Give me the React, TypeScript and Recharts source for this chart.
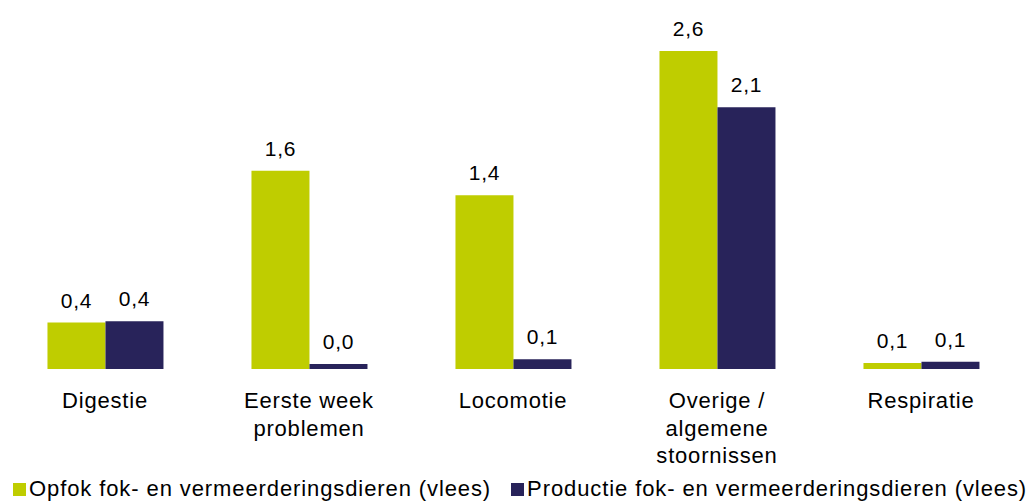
import React from 'react';
import { BarChart, Bar, XAxis, YAxis, Legend, LabelList } from 'recharts';

const categories = ['Digestie', 'Eerste week problemen', 'Locomotie', 'Overige / algemene stoornissen', 'Respiratie'];
const tickLines = [['Digestie'], ['Eerste week', 'problemen'], ['Locomotie'], ['Overige /', 'algemene', 'stoornissen'], ['Respiratie']];
const opfokValues = [0.38, 1.62, 1.42, 2.6, 0.05];
const productieValues = [0.39, 0.04, 0.08, 2.14, 0.06];
const seriesNames = ['Opfok fok- en vermeerderingsdieren (vlees)', 'Productie fok- en vermeerderingsdieren (vlees)'];
const seriesColors = ['#BFCD00', '#28235A'];

const data = categories.map((c, i) => ({ name: c, lines: tickLines[i], opfok: opfokValues[i], productie: productieValues[i] }));

const FONT = '"Liberation Sans", Arial, sans-serif';

const fmt = (v: number) => v.toFixed(1).replace('.', ',');

const Tick = (props: any) => {
  const { x, y, index } = props;
  const lines = tickLines[index] || [];
  return (
    <g>
      {lines.map((l: string, i: number) => (
        <text key={i} x={x} y={y + 31 + i * 27.5} textAnchor="middle" fontFamily={FONT} fontSize={22} letterSpacing={0.8} fill="#000">
          {l}
        </text>
      ))}
    </g>
  );
};

const ValueLabel = (props: any) => {
  const { x, y, width, value } = props;
  return (
    <text x={x + width / 2} y={y - 15} textAnchor="middle" fontFamily={FONT} fontSize={21} letterSpacing={0.8} fill="#000">
      {fmt(value)}
    </text>
  );
};

const LegendContent = () => (
  <div style={{ height: 26, display: 'flex', alignItems: 'flex-start', paddingLeft: 13, fontFamily: FONT, fontSize: 22, letterSpacing: 0.9, color: '#000', whiteSpace: 'nowrap' }}>
    {seriesNames.map((n, i) => (
      <div key={i} style={{ display: 'flex', alignItems: 'center', marginRight: 20, height: 26 }}>
        <span style={{ display: 'inline-block', width: 13, height: 13, background: seriesColors[i], marginRight: 3, marginTop: 2 }} />
        <span style={{ lineHeight: '26px', marginTop: 2 }}>{n}</span>
      </div>
    ))}
  </div>
);

export default function App() {
  return (
    <div style={{ position: 'absolute', left: 0, top: 0, width: 1029, height: 501, background: '#fff' }}>
      <BarChart width={1029} height={501} data={data} margin={{ top: 2, right: 6, left: 3, bottom: 0 }} barCategoryGap="21.8%" barGap={0}>
        <XAxis dataKey="name" axisLine={false} tickLine={false} tick={<Tick />} height={106} interval={0} />
        <YAxis hide domain={[0, 3]} />
        <Legend verticalAlign="bottom" align="left" content={<LegendContent />} wrapperStyle={{ left: 0, width: 1029 }} />
        <Bar dataKey="opfok" fill={seriesColors[0]} isAnimationActive={false}>
          <LabelList dataKey="opfok" content={<ValueLabel />} />
        </Bar>
        <Bar dataKey="productie" fill={seriesColors[1]} isAnimationActive={false}>
          <LabelList dataKey="productie" content={<ValueLabel />} />
        </Bar>
      </BarChart>
    </div>
  );
}
